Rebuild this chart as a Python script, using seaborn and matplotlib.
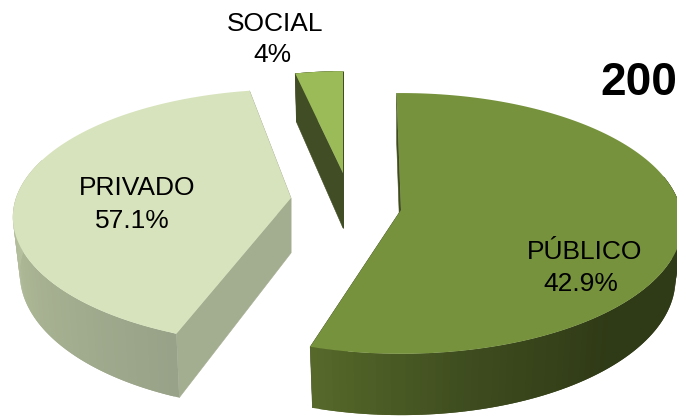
import numpy as np
import matplotlib
matplotlib.use("Agg")
import matplotlib.pyplot as plt
from matplotlib.path import Path
from matplotlib.transforms import Transform
import seaborn as sns

# data
categories = ["PÚBLICO", "PRIVADO", "SOCIAL"]
drawn_shares = [55.0, 41.4, 3.6]          # slice sizes as seen in the picture
label_values = ["42.9%", "57.1%", "4%"]   # values printed on the chart
year_text = "200"

# style
top_colors = ["#76923C", "#D7E3BC", "#9BBB59"]
wall_stops = [["#56682A", "#3D4B1E", "#2F3A16", "#2F3A16", "#2F3A16"],
              ["#BFCAA8", "#AAB594", "#98A288"],
              ["#414D24"]]
cut_colors = ["#404C20", "#A3AD90", "#414D24"]
apex = [(401, 210), (291, 198), (343, 173)]
scale_y = [129, 125, 116]
scale_x = [280, 275, 242]
persp = [0.103, 0.15, 0.139]
spin = [0.5, -3.5, -0.5]
depth = 55
converge = 0.025
label_xy = [[(585, 252), (581, 284)], [(137, 188), (132, 221)], [(275, 24), (272, 55)]]

sns.set_theme(style="white")
plt.rcParams["font.family"] = ["Liberation Sans", "DejaVu Sans"]


def project(u, v, cx, cy, a, k, sx, rot, low=False):
    r = np.radians(rot)
    u, v = u * np.cos(r) - v * np.sin(r), u * np.sin(r) + v * np.cos(r)
    s = 1 + k * v
    x = sx * u / s
    y = -a * v / s
    if low:
        x = x * (1 - converge)
        y = y + depth / s
    return cx + x, cy + y


class Tilt(Transform):
    input_dims = output_dims = 2

    def __init__(self, *p):
        super().__init__()
        self.p = p

    def transform_non_affine(self, values):
        values = np.asarray(values, float)
        x, y = project(values[:, 0], values[:, 1], *self.p)
        return np.column_stack([x, y])

    def transform_path_non_affine(self, path):
        pts = []
        for curve, code in path.iter_bezier():
            if code == Path.MOVETO:
                pts.append(curve.control_points[0])
                continue
            for t in np.linspace(0, 1, 24)[1:]:
                pts.append(curve(t))
        pts = np.array(pts)
        return Path(self.transform_non_affine(pts))


fig = plt.figure(figsize=(6.77, 4.16), dpi=100, facecolor="white")
ax = fig.add_axes([0, 0, 1, 1])
wedges, _ = ax.pie(drawn_shares, startangle=90.5, counterclock=False,
                   colors=top_colors, radius=1.0,
                   wedgeprops={"linewidth": 0})
ax.set_aspect("auto")
ax.set_xlim(0, 677)
ax.set_ylim(416, 0)
ax.axis("off")

order = [2, 1, 0]
for rank, i in enumerate(order):
    w = wedges[i]
    p = (apex[i][0], apex[i][1], scale_y[i], persp[i], scale_x[i], spin[i])
    z = 2 + rank * 3
    w.set_transform(Tilt(*p) + ax.transData)
    w.set_zorder(z + 2)

    # radial cut walls
    for th in (w.theta1, w.theta2):
        c, s = np.cos(np.radians(th)), np.sin(np.radians(th))
        xa, ya = project(np.array([0.0, c]), np.array([0.0, s]), *p)
        xb, yb = project(np.array([c]), np.array([s]), *p, low=True)
        xc, yc = project(np.array([0.0]), np.array([0.0]), *p, low=True)
        ax.fill(np.r_[xa, xb, xc], np.r_[ya, yb, yc], color=cut_colors[i], lw=0.4, zorder=z)

    # curved outer wall, shaded along the rim (visible front part only)
    if i == 0:
        ang = np.linspace(w.theta1, 15, 90)
    elif i == 1:
        ang = np.linspace(w.theta2 + 360, 165, 90)
    else:
        ang = np.linspace(w.theta1, w.theta2, 6)
    n = len(ang) - 1
    if len(wall_stops[i]) > 1:
        shades = sns.blend_palette(wall_stops[i], n_colors=n)
    else:
        shades = [wall_stops[i][0]] * n
    if i == 1:
        shades = shades[::-1]
    for j in range(n):
        a2 = np.radians(ang[j:j + 3])
        xa, ya = project(np.cos(a2), np.sin(a2), *p)
        xb, yb = project(np.cos(a2[::-1]), np.sin(a2[::-1]), *p, low=True)
        ax.fill(np.r_[xa, xb], np.r_[ya, yb], color=shades[j], lw=0, zorder=z + 1)

    name_xy, val_xy = label_xy[i]
    ax.text(*name_xy, categories[i], ha="center", va="center", fontsize=19,
            color="black", zorder=20)
    ax.text(*val_xy, label_values[i], ha="center", va="center", fontsize=19,
            color="black", zorder=20)

ax.text(600, 95, year_text, ha="left", va="baseline", fontsize=33,
        fontweight="bold", color="black", zorder=20)

fig.savefig("out.png", dpi=100)
